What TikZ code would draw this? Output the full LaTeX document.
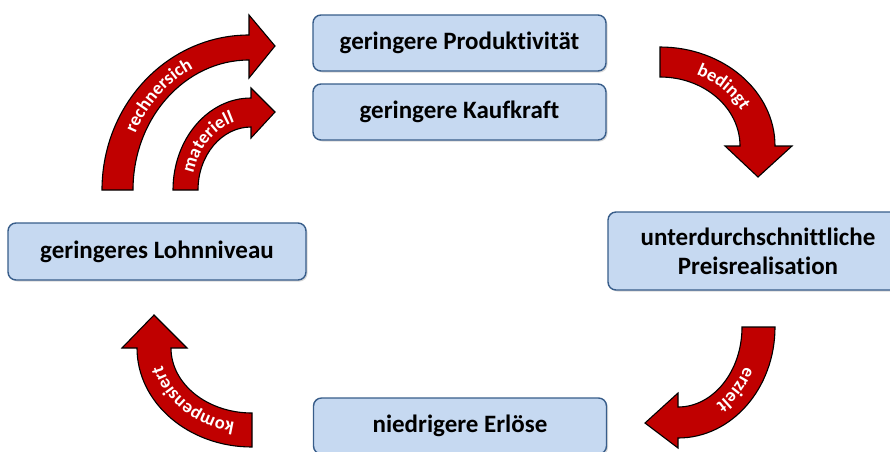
\documentclass[tikz,border=0pt]{standalone}
\usepackage{fontspec}
\setmainfont{Carlito}[Ligatures=NoCommon]
\usetikzlibrary{decorations.text,shadows}

\definecolor{boxfill}{RGB}{198,217,241}
\definecolor{boxline}{RGB}{56,93,138}
\definecolor{arrowred}{RGB}{192,0,0}

\begin{document}
\begin{tikzpicture}[x=1pt,y=-1pt,
					%node distance=1.2cm,
					thick,
					main node/.style={rectangle,rounded corners=8pt,draw=boxline,line width=1.4pt,fill=boxfill,
					  drop shadow={shadow xshift=1.5pt,shadow yshift=-1.5pt,opacity=0.3},
					  minimum width=293pt,minimum height=56pt,align=center,
					  font=\bfseries\fontsize{25}{29}\selectfont},
					block arrow/.style={fill=arrowred,draw=black,line width=1.1pt,line join=miter},
					arrow text/.style={decorate,decoration={text along path,text align=center,
					  text color=white,text={|\bfseries\fontsize{18.5}{18.5}\selectfont|#1}}}]

  \useasboundingbox (0,0) rectangle (890,451);
  \clip (0,0) rectangle (890,451);

  \node[main node] (P) at (459.5,43) {geringere Produktivität};
  \node[main node] (K) at (459.5,112) {geringere Kaufkraft};
  \node[main node,minimum width=300pt,minimum height=78pt] (R) at (758,251) {unterdurchschnittliche\\Preisrealisation};
  \node[main node] (E) at (460,426) {niedrigere Erlöse};
  \node[main node,minimum width=298pt,minimum height=57pt] (L) at (157,251.5) {geringeres Lohnniveau};

  % rechnersich
  \draw[block arrow] (102,190) arc[start angle=180,end angle=270,x radius=147,y radius=155]
    -- (249,15) -- (275,46) -- (249,78) -- (249,60)
    arc[start angle=270,end angle=180,x radius=116,y radius=130] -- cycle;
  \path[arrow text=rechnersich] (124,190) arc[start angle=180,end angle=270,x radius=125,y radius=136];

  % materiell
  \draw[block arrow] (173,190) arc[start angle=180,end angle=270,x radius=78,y radius=92]
    -- (251,88) -- (275,112) -- (251,138) -- (251,127)
    arc[start angle=270,end angle=180,x radius=53,y radius=63] -- cycle;
  \path[arrow text=materiell] (192,190) arc[start angle=180,end angle=270,x radius=59,y radius=71];

  % bedingt
  \draw[block arrow] (660,47) arc[start angle=270,end angle=360,x radius=115,y radius=99]
    -- (792,146) -- (758,177) -- (725,146) -- (740,146)
    arc[start angle=360,end angle=270,x radius=80,y radius=69] -- cycle;
  \path[arrow text=bedingt] (660,68) arc[start angle=270,end angle=360,x radius=91,y radius=78];

  % erzielt
  \draw[block arrow] (775,327) arc[start angle=0,end angle=90,x radius=97,y radius=111]
    -- (678,448) -- (645,423) -- (678,393) -- (678,407)
    arc[start angle=90,end angle=0,x radius=64,y radius=80] -- cycle;
  \path[arrow text=erzielt] (752.5,327) arc[start angle=0,end angle=90,x radius=74.5,y radius=89.5];

  % kompensiert
  \draw[block arrow] (252,447) arc[start angle=90,end angle=180,x radius=115,y radius=99]
    -- (122,348) -- (154,315) -- (187,348) -- (171,348)
    arc[start angle=180,end angle=90,x radius=81,y radius=65] -- cycle;
  \path[arrow text=kompensiert] (252,424) arc[start angle=90,end angle=180,x radius=92,y radius=76];
\end{tikzpicture}
\end{document}
